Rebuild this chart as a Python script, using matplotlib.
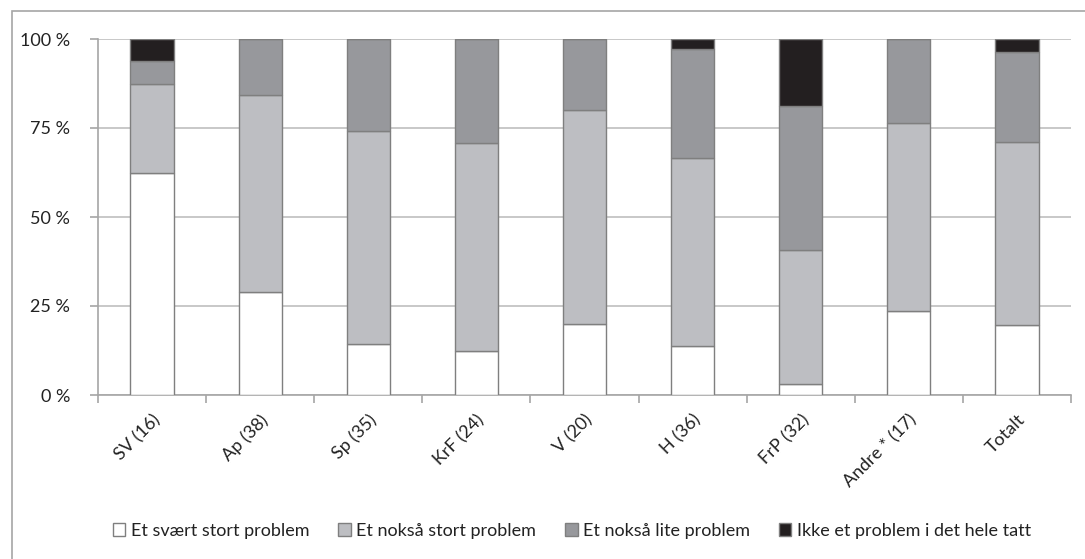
import matplotlib
matplotlib.use('Agg')
import matplotlib.pyplot as plt
import numpy as np
from matplotlib.patches import Rectangle

plt.rcParams['font.family'] = ['Lato', 'DejaVu Sans']

# data (percent of each party group)
parties = ['SV (16)', 'Ap (38)', 'Sp (35)', 'KrF (24)', 'V (20)', 'H (36)', 'FrP (32)', 'Andre * (17)', 'Totalt']
svaert_stort = [62.5, 28.95, 14.29, 12.5, 20.0, 13.89, 3.13, 23.53, 19.7]
noksaa_stort = [25.0, 55.26, 60.0, 58.33, 60.0, 52.78, 37.5, 52.94, 51.3]
noksaa_lite = [6.25, 15.79, 25.71, 29.17, 20.0, 30.56, 40.62, 23.53, 25.3]
ikke_problem = [6.25, 0.0, 0.0, 0.0, 0.0, 2.78, 18.75, 0.0, 3.7]

series_names = ['Et svært stort problem', 'Et nokså stort problem',
                'Et nokså lite problem', 'Ikke et problem i det hele tatt']
colors = ['#ffffff', '#bdbec2', '#97989c', '#231f20']

fig = plt.figure(figsize=(10.85, 5.59), dpi=100)
# chart frame (top/left visible)
fig.patches.append(Rectangle((12 / 1085, -0.1), 1.2, (548 / 559) + 0.1,
                             transform=fig.transFigure, fill=False,
                             edgecolor='#a6a6a6', linewidth=1.2))

ax = fig.add_axes([98 / 1085, 1 - 395 / 559, 973 / 1085, 356 / 559])

x = np.arange(len(parties))
bottom = np.zeros(len(parties))
for vals, col, name in zip([svaert_stort, noksaa_stort, noksaa_lite, ikke_problem], colors, series_names):
    vals = np.array(vals)
    ax.bar(x, vals, 0.4, bottom=bottom, color=col, edgecolor='#7f7f7f',
           linewidth=1.0, label=name, zorder=3)
    bottom += vals

ax.set_xlim(-0.5, len(parties) - 0.5)
ax.set_ylim(0, 100)
ax.set_yticks([0, 25, 50, 75, 100])
ax.set_yticklabels(['0 %', '25 %', '50 %', '75 %', '100 %'], fontsize=13, color='#222222')
ax.yaxis.grid(True, color='#bfbfbf', linewidth=1.2, zorder=0)

ax.set_xticks(x)
ax.set_xticklabels(parties, rotation=45, ha='right', rotation_mode='anchor',
                   fontsize=13, color='#222222')
ax.tick_params(axis='x', which='major', length=0, pad=12)
ax.set_xticks(np.arange(-0.5, len(parties)), minor=True)
ax.tick_params(axis='x', which='minor', length=6, color='#a6a6a6', width=1.2)
ax.tick_params(axis='y', length=6, color='#a6a6a6', width=1.2, pad=14)

for s in ['top', 'right']:
    ax.spines[s].set_visible(False)
for s in ['left', 'bottom']:
    ax.spines[s].set_color('#a6a6a6')
    ax.spines[s].set_linewidth(1.2)

leg = fig.legend(loc='center', bbox_to_anchor=(0.527, 1 - 531 / 559), ncol=4,
                 frameon=False, fontsize=13, handlelength=0.7, handleheight=0.7,
                 handletextpad=0.3, columnspacing=1.6)
for t in leg.get_texts():
    t.set_color('#222222')

fig.savefig('out.png', dpi=100)
